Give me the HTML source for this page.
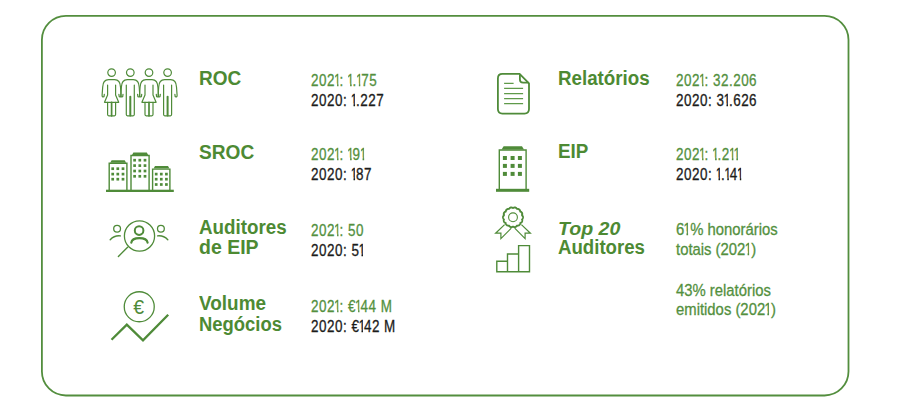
<!DOCTYPE html>
<html lang="pt">
<head>
<meta charset="utf-8">
<title>Indicadores</title>
<style>
html,body{margin:0;padding:0;background:#fff;}
body{width:900px;height:406px;position:relative;overflow:hidden;font-family:"Liberation Sans",Arial,sans-serif;}
svg.ic{position:absolute;left:0;top:0;width:900px;height:406px;}
.t{position:absolute;white-space:nowrap;line-height:1;transform-origin:0 0;}
.h{font-weight:bold;color:#4d8a33;font-size:19.6px;transform:scaleX(.964);}
.v{font-size:16px;letter-spacing:.6px;transform:scaleX(.84);-webkit-text-stroke:.3px currentColor;}
.w{font-size:16.8px;letter-spacing:0;transform:scaleX(.885);}
.o{margin-left:-1.3px;letter-spacing:-2.2px;clip-path:polygon(1.4px -3px,5.7px -3px,5.7px 20px,3.85px 20px,3.85px 11.4px,1.4px 11.4px);}
.o.p{letter-spacing:-1.4px;}
.g{color:#53903e;}
.k{color:#1c1c1a;}
</style>
</head>
<body>
<svg class="ic" viewBox="0 0 900 406" xmlns="http://www.w3.org/2000/svg">
  <!-- ROC people -->
  <g fill="none" stroke="#4f8b39" stroke-width="1.2" stroke-linejoin="round" stroke-linecap="round">
    <g transform="translate(111.6 0)"><circle cx="0" cy="72.6" r="3.8"/>
      <path d="M-7.3,94.4 L-7.6,96.8 Q-9.6,97.4 -9.5,95.2 L-8.9,87 C-8.7,82 -6.8,79.6 -3,79.6 L3,79.6 C6.8,79.6 8.7,82 8.9,87 L9.5,95.2 Q9.6,97.4 7.6,96.8 L7.3,94.4"/>
      <path d="M-4,85 L-4,95 L-7.1,102.3 L7.1,102.3 L4,95 L4,85"/>
      <path d="M-4,102.3 L-4,114.6 Q-4,115.8 -2.8,115.8 L2.8,115.8 Q4,115.8 4,114.6 L4,102.3"/>
      <path d="M0,102.3 L0,115.8" stroke-width="1.7"/></g>
    <g transform="translate(130.3 0)"><circle cx="0" cy="72.6" r="3.8"/>
      <path d="M-7.3,94.4 L-7.6,96.8 Q-9.6,97.4 -9.5,95.2 L-8.9,87 C-8.7,82 -6.8,79.6 -3,79.6 L3,79.6 C6.8,79.6 8.7,82 8.9,87 L9.5,95.2 Q9.6,97.4 7.6,96.8 L7.3,94.4"/>
      <path d="M-4,85 L-4,114.6 Q-4,115.8 -2.8,115.8 L2.8,115.8 Q4,115.8 4,114.6 L4,85"/>
      <path d="M0,96.7 L0,115.4" stroke-width="2"/></g>
    <g transform="translate(149 0)"><circle cx="0" cy="72.6" r="3.8"/>
      <path d="M-7.3,94.4 L-7.6,96.8 Q-9.6,97.4 -9.5,95.2 L-8.9,87 C-8.7,82 -6.8,79.6 -3,79.6 L3,79.6 C6.8,79.6 8.7,82 8.9,87 L9.5,95.2 Q9.6,97.4 7.6,96.8 L7.3,94.4"/>
      <path d="M-4,85 L-4,95 L-7.1,102.3 L7.1,102.3 L4,95 L4,85"/>
      <path d="M-4,102.3 L-4,114.6 Q-4,115.8 -2.8,115.8 L2.8,115.8 Q4,115.8 4,114.6 L4,102.3"/>
      <path d="M0,102.3 L0,115.8" stroke-width="1.7"/></g>
    <g transform="translate(167.6 0)"><circle cx="0" cy="72.6" r="3.8"/>
      <path d="M-7.3,94.4 L-7.6,96.8 Q-9.6,97.4 -9.5,95.2 L-8.9,87 C-8.7,82 -6.8,79.6 -3,79.6 L3,79.6 C6.8,79.6 8.7,82 8.9,87 L9.5,95.2 Q9.6,97.4 7.6,96.8 L7.3,94.4"/>
      <path d="M-4,85 L-4,114.6 Q-4,115.8 -2.8,115.8 L2.8,115.8 Q4,115.8 4,114.6 L4,85"/>
      <path d="M0,96.7 L0,115.4" stroke-width="2"/></g>
  </g>
  <!-- SROC buildings -->
  <g fill="none" stroke="#4f8b39" stroke-width="1.4">
    <path d="M109.2,190 V163.2 H126.9 V190"/>
    <path d="M131,190 V155.5 H149.1 V190"/>
    <path d="M152.6,190 V169.1 H169.9 V190"/>
  </g>
  <g fill="#4f8b39">
    <path d="M110.2,162.8 L111.6,160.3 H124.7 L126.1,162.8 Z"/>
    <path d="M132,155 L133.4,152.5 H146.8 L148.2,155 Z"/>
    <path d="M153.6,168.5 L155,166 H168 L169.4,168.5 Z"/>
    <rect x="106" y="189.7" width="67.8" height="2.3"/>
    <rect x="111.35" y="167.35" width="2.7" height="2.7"/><rect x="116.45" y="167.35" width="2.7" height="2.7"/><rect x="121.65" y="167.35" width="2.7" height="2.7"/><rect x="111.35" y="172.75" width="2.7" height="2.7"/><rect x="116.45" y="172.75" width="2.7" height="2.7"/><rect x="121.65" y="172.75" width="2.7" height="2.7"/><rect x="111.35" y="177.85" width="2.7" height="2.7"/><rect x="116.45" y="177.85" width="2.7" height="2.7"/><rect x="121.65" y="177.85" width="2.7" height="2.7"/>
    <rect x="133.25" y="158.85" width="2.7" height="2.7"/><rect x="138.45" y="158.85" width="2.7" height="2.7"/><rect x="143.65" y="158.85" width="2.7" height="2.7"/><rect x="133.25" y="164.25" width="2.7" height="2.7"/><rect x="138.45" y="164.25" width="2.7" height="2.7"/><rect x="143.65" y="164.25" width="2.7" height="2.7"/><rect x="133.25" y="169.65" width="2.7" height="2.7"/><rect x="138.45" y="169.65" width="2.7" height="2.7"/><rect x="143.65" y="169.65" width="2.7" height="2.7"/><rect x="133.25" y="174.95" width="2.7" height="2.7"/><rect x="138.45" y="174.95" width="2.7" height="2.7"/><rect x="143.65" y="174.95" width="2.7" height="2.7"/>
    <rect x="154.85" y="172.75" width="2.7" height="2.7"/><rect x="159.95" y="172.75" width="2.7" height="2.7"/><rect x="165.05" y="172.75" width="2.7" height="2.7"/><rect x="154.85" y="177.85" width="2.7" height="2.7"/><rect x="159.95" y="177.85" width="2.7" height="2.7"/><rect x="165.05" y="177.85" width="2.7" height="2.7"/><rect x="154.85" y="183.15" width="2.7" height="2.7"/><rect x="159.95" y="183.15" width="2.7" height="2.7"/><rect x="165.05" y="183.15" width="2.7" height="2.7"/>
  </g>
  <!-- Auditores de EIP -->
  <g fill="none" stroke="#4f8b39" stroke-linecap="round">
    <circle cx="139.5" cy="236" r="15.1" stroke-width="1.3"/>
    <path d="M127.6,247.2 L118.4,256.4" stroke-width="1.4"/>
    <circle cx="139.1" cy="230.6" r="4.3" stroke-width="2"/>
    <path d="M131.3,242.6 C132.2,236.6 146.6,236.6 147.6,242.6" stroke-width="2.2"/>
    <circle cx="117.1" cy="228.7" r="3.4" stroke-width="1.3"/>
    <circle cx="160.9" cy="228.7" r="3.4" stroke-width="1.3"/>
    <path d="M110.2,239.8 Q114.5,235.2 120.4,235.9" stroke-width="1.4"/>
    <path d="M167.8,239.8 Q163.5,235.2 157.6,235.9" stroke-width="1.4"/>
  </g>
  <!-- Volume Negocios -->
  <g fill="none" stroke="#4f8b39">
    <circle cx="139.25" cy="306.75" r="15" stroke-width="1.3"/>
    <path d="M111.5,339.8 L126.8,324.7 L143,340.4 L168.2,314.8" stroke-width="2.3" stroke-linejoin="miter"/>
  </g>
  <text x="138.6" y="314.3" font-family="Liberation Sans, Arial, sans-serif" font-size="19.5" text-anchor="middle" fill="#4f8b39">€</text>
  <!-- Relatorios document -->
  <g fill="none" stroke="#4f8b39" stroke-linejoin="round">
    <path d="M519.6,73.9 H502.4 Q497.9,73.9 497.9,78.4 V109.1 Q497.9,113.6 502.4,113.6 H524.5 Q529,113.6 529,109.1 V83.4 Z" stroke-width="1.8"/>
    <path d="M519.9,74.5 V79.4 Q519.9,82.6 523.1,82.6 H528.5" stroke-width="1.8"/>
  </g>
  <g stroke="#5f9a4a" stroke-width="1.2">
    <path d="M504.1,83.4 H513.6 M504.1,88.3 H523.1 M504.1,93.6 H523.1 M504.1,98.6 H523.1 M504.1,103.7 H523.1"/>
  </g>
  <!-- EIP building -->
  <g fill="none" stroke="#4f8b39" stroke-width="1.4">
    <path d="M499.3,189.5 V150 H526.1 V189.5"/>
  </g>
  <g fill="#4f8b39">
    <path d="M501.6,149.6 L503.6,146.3 H522 L524,149.6 Z"/>
    <rect x="496" y="188.8" width="33.2" height="3"/>
    <rect x="502.90" y="156.00" width="4" height="4"/><rect x="510.60" y="156.00" width="4" height="4"/><rect x="517.90" y="156.00" width="4" height="4"/><rect x="502.90" y="163.90" width="4" height="4"/><rect x="510.60" y="163.90" width="4" height="4"/><rect x="517.90" y="163.90" width="4" height="4"/><rect x="502.90" y="171.90" width="4" height="4"/><rect x="510.60" y="171.90" width="4" height="4"/><rect x="517.90" y="171.90" width="4" height="4"/>
  </g>
  <!-- Top 20 rosette -->
  <g fill="none" stroke="#4f8b39" stroke-linejoin="miter">
    <path d="M523.00,217.30 L522.97,217.67 L522.88,218.04 L522.73,218.40 L522.54,218.74 L522.32,219.06 L522.07,219.37 L522.16,219.75 L522.22,220.14 L522.25,220.54 L522.22,220.92 L522.14,221.29 L522.01,221.64 L521.82,221.96 L521.58,222.25 L521.29,222.51 L520.97,222.74 L520.63,222.93 L520.27,223.10 L520.19,223.48 L520.07,223.86 L519.93,224.23 L519.74,224.56 L519.51,224.86 L519.23,225.12 L518.92,225.33 L518.58,225.48 L518.21,225.59 L517.83,225.66 L517.43,225.68 L517.04,225.68 L516.79,225.99 L516.53,226.28 L516.24,226.55 L515.92,226.77 L515.58,226.94 L515.23,227.05 L514.85,227.10 L514.48,227.10 L514.10,227.03 L513.72,226.92 L513.35,226.77 L513.00,226.60 L512.65,226.77 L512.28,226.92 L511.90,227.03 L511.52,227.10 L511.15,227.10 L510.77,227.05 L510.42,226.94 L510.08,226.77 L509.76,226.55 L509.47,226.28 L509.21,225.99 L508.96,225.68 L508.57,225.68 L508.18,225.66 L507.79,225.59 L507.42,225.48 L507.08,225.33 L506.77,225.12 L506.49,224.86 L506.26,224.56 L506.07,224.23 L505.93,223.86 L505.81,223.48 L505.73,223.10 L505.37,222.93 L505.03,222.74 L504.71,222.51 L504.42,222.25 L504.18,221.96 L503.99,221.64 L503.86,221.29 L503.78,220.92 L503.75,220.54 L503.78,220.14 L503.84,219.75 L503.93,219.37 L503.68,219.06 L503.46,218.74 L503.27,218.40 L503.12,218.04 L503.03,217.67 L503.00,217.30 L503.03,216.93 L503.12,216.56 L503.27,216.20 L503.46,215.86 L503.68,215.54 L503.93,215.23 L503.84,214.85 L503.78,214.46 L503.75,214.06 L503.78,213.68 L503.86,213.31 L503.99,212.96 L504.18,212.64 L504.42,212.35 L504.71,212.09 L505.03,211.86 L505.37,211.67 L505.73,211.50 L505.81,211.12 L505.93,210.74 L506.07,210.37 L506.26,210.04 L506.49,209.74 L506.77,209.48 L507.08,209.27 L507.42,209.12 L507.79,209.01 L508.18,208.94 L508.57,208.92 L508.96,208.92 L509.21,208.61 L509.47,208.32 L509.76,208.05 L510.08,207.83 L510.42,207.66 L510.77,207.55 L511.15,207.50 L511.52,207.50 L511.90,207.57 L512.28,207.68 L512.65,207.83 L513.00,208.00 L513.35,207.83 L513.72,207.68 L514.10,207.57 L514.48,207.50 L514.85,207.50 L515.23,207.55 L515.58,207.66 L515.92,207.83 L516.24,208.05 L516.53,208.32 L516.79,208.61 L517.04,208.92 L517.43,208.92 L517.83,208.94 L518.21,209.01 L518.58,209.12 L518.92,209.27 L519.23,209.48 L519.51,209.74 L519.74,210.04 L519.93,210.37 L520.07,210.74 L520.19,211.12 L520.27,211.50 L520.63,211.67 L520.97,211.86 L521.29,212.09 L521.58,212.35 L521.82,212.64 L522.01,212.96 L522.14,213.31 L522.22,213.68 L522.25,214.06 L522.22,214.46 L522.16,214.85 L522.07,215.23 L522.32,215.54 L522.54,215.86 L522.73,216.20 L522.88,216.56 L522.97,216.93 L523.00,217.30Z" stroke-width="1.9"/>
    <circle cx="513" cy="217.3" r="4.4" stroke-width="1.1"/>
    <path d="M504.6,224.6 L495.6,233.2 H500.9 V238.6 L511.3,228.2" stroke-width="1.2"/>
    <path d="M521.4,224.6 L530.4,233.2 H525.1 V238.6 L514.7,228.2" stroke-width="1.2"/>
    <path d="M496.8,271.8 V261.2 H507.5 V271.8 Z M507.5,271.8 V254 H518.6 V271.8 M518.6,271.8 V245.6 H529.5 V271.8 H496.8" stroke-width="1.4"/>
  </g>
  <rect x="41.9" y="15.8" width="806.6" height="379.7" rx="24" ry="24" fill="none" stroke="#538e3e" stroke-width="1.8"/>
</svg>

<!-- left column -->
<div class="t h" style="left:199px;top:69.4px;transform:scaleX(0.97)">ROC</div>
<div class="t v g" style="left:311px;top:73.2px">202<span class="o">1</span>: <span class="o">1</span>.<span class="o">1</span>75</div>
<div class="t v k" style="left:311px;top:93.2px">2020: <span class="o">1</span>.227</div>

<div class="t h" style="left:199px;top:142.7px;transform:scaleX(0.975)">SROC</div>
<div class="t v g" style="left:311px;top:147.2px">202<span class="o">1</span>: <span class="o">1</span>9<span class="o">1</span></div>
<div class="t v k" style="left:311px;top:167.2px">2020: <span class="o">1</span>87</div>

<div class="t h" style="left:199px;top:217.6px;transform:scaleX(0.958)">Auditores</div>
<div class="t h" style="left:199px;top:237.7px;transform:scaleX(0.994)">de EIP</div>
<div class="t v g" style="left:311px;top:223.2px">202<span class="o">1</span>: 50</div>
<div class="t v k" style="left:311px;top:243.2px">2020: 5<span class="o">1</span></div>

<div class="t h" style="left:199px;top:294.4px;transform:scaleX(0.967)">Volume</div>
<div class="t h" style="left:199px;top:314.6px;transform:scaleX(0.94)">Negócios</div>
<div class="t v g" style="left:311px;top:299.2px">202<span class="o">1</span>: €<span class="o">1</span>44 M</div>
<div class="t v k" style="left:311px;top:319.2px">2020: €<span class="o">1</span>42 M</div>

<!-- right column -->
<div class="t h" style="left:558px;top:69.4px;transform:scaleX(0.957)">Relatórios</div>
<div class="t v g" style="left:676px;top:73.2px">202<span class="o">1</span>: 32.206</div>
<div class="t v k" style="left:676px;top:93.2px">2020: 3<span class="o">1</span>.626</div>

<div class="t h" style="left:558px;top:142.4px;transform:scaleX(0.96)">EIP</div>
<div class="t v g" style="left:676px;top:147.2px">202<span class="o">1</span>: <span class="o">1</span>.2<span class="o">1</span><span class="o">1</span></div>
<div class="t v k" style="left:676px;top:167.2px">2020: <span class="o">1</span>.<span class="o">1</span>4<span class="o">1</span></div>

<div class="t h" style="left:558px;top:218.6px;font-style:italic;font-size:19px;transform:scaleX(1.03)">Top 20</div>
<div class="t h" style="left:558px;top:237.5px;transform:scaleX(0.951)">Auditores</div>
<div class="t v g w" style="left:676px;top:221.8px">6<span class="o p">1</span>% honorários</div>
<div class="t v g w" style="left:676px;top:241.8px">totais (202<span class="o p">1</span>)</div>
<div class="t v g w" style="left:676px;top:282.8px">43% relatórios</div>
<div class="t v g w" style="left:676px;top:301.8px">emitidos (202<span class="o p">1</span>)</div>
</body>
</html>
